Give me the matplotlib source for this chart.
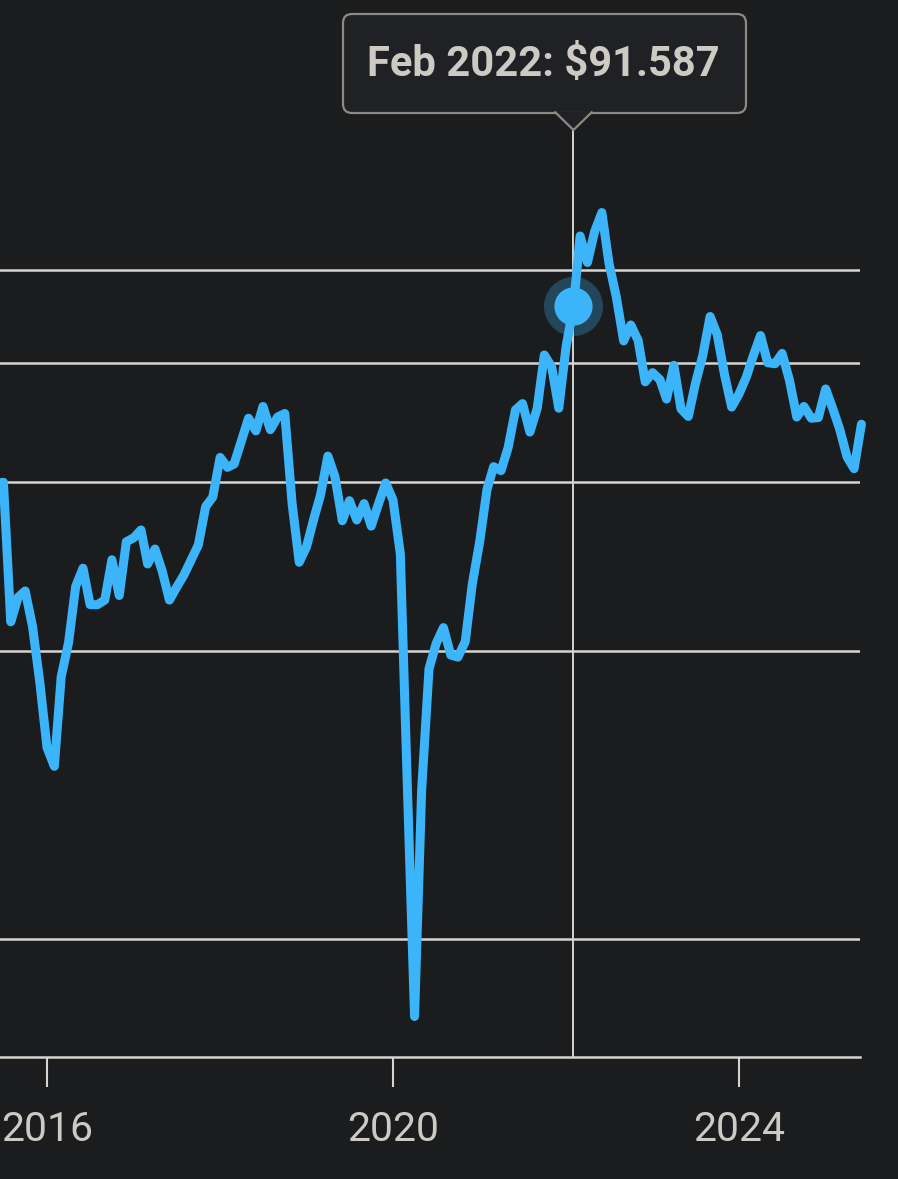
import numpy as np
import pandas as pd
import matplotlib
matplotlib.use("Agg")
import matplotlib.pyplot as plt
import matplotlib.dates as mdates
from matplotlib.patches import FancyBboxPatch, Polygon
from matplotlib.ticker import NullLocator

# monthly prices (Jun 2015 .. Jun 2025)
start_month = "2015-06-01"
prices_2015 = [59.8, 60.0, 42.9, 45.5, 46.2, 42.4, 37.2]
prices_2016 = [31.7, 30.3, 37.6, 40.8, 46.7, 48.8, 44.7, 44.7, 45.2, 49.8, 45.7, 52.0]
prices_2017 = [52.5, 53.5, 49.3, 51.1, 48.5, 45.2, 46.6, 48.0, 49.8, 51.6, 56.6, 57.9]
prices_2018 = [63.7, 62.2, 62.7, 66.3, 70.0, 67.9, 72.0, 68.1, 70.2, 70.8, 57.0, 49.5]
prices_2019 = [51.4, 55.0, 58.2, 63.9, 60.8, 54.7, 57.4, 54.8, 57.0, 54.0, 57.0, 59.9]
prices_2020 = [57.5, 50.5, 29.2, 16.6, 28.6, 38.3, 40.7, 42.3, 39.6, 39.4, 40.9, 47.0]
prices_2021 = [52.0, 59.0, 62.3, 61.7, 65.2, 71.4, 72.5, 67.7, 71.7, 81.5, 79.2, 71.7]
prices_2022 = [83.2, 91.587, 108.5, 101.8, 109.6, 114.8, 101.6, 93.7, 84.3, 87.6, 84.4, 76.4]
prices_2023 = [78.1, 76.8, 73.3, 79.5, 71.6, 70.3, 76.1, 81.4, 89.4, 85.6, 77.7, 71.9]
prices_2024 = [74.2, 77.3, 81.3, 85.4, 80.0, 79.8, 81.8, 76.7, 70.2, 72.0, 70.0, 70.1]
prices_2025 = [75.1, 71.5, 68.2, 63.8, 62.0, 69.0]

grid_values = [20, 40, 60, 80, 100]
year_ticks = ["2016", "2020", "2024"]
hover_month = "2022-02-01"

prices = (prices_2015 + prices_2016 + prices_2017 + prices_2018 + prices_2019
          + prices_2020 + prices_2021 + prices_2022 + prices_2023 + prices_2024
          + prices_2025)
months = pd.date_range(start_month, periods=len(prices), freq="MS")

# style
bg = "#1b1c1e"
blue = "#3cb4fa"
light = "#d8d4ce"
text_col = "#cdc9c3"
plt.rcParams["font.family"] = ["Roboto", "DejaVu Sans"]

W, H = 898, 1179
fig = plt.figure(figsize=(W / 100, H / 100), dpi=100, facecolor=bg)
ax = fig.add_axes([0, 122 / H, 860 / W, 1057 / H])
ax.set_facecolor(bg)

# x range: 2016-01-01 sits near px 47, 2024-01-01 near px 739
d16 = mdates.date2num(pd.Timestamp("2016-01-01"))
d24 = mdates.date2num(pd.Timestamp("2024-01-01"))
per_px = (d24 - d16) / (739 - 47)
ax.set_xlim(d16 - 47 * per_px, d16 + 813 * per_px)

ax.set_yscale("log")
ax.set_ylim(15.06, 191.4)
ax.set_yticks(grid_values)
ax.yaxis.set_minor_locator(NullLocator())
ax.tick_params(axis="y", length=0, labelleft=False)
ax.grid(axis="y", color=light, lw=1.8)
ax.set_axisbelow(True)

ax.set_xticks([mdates.date2num(pd.Timestamp(y + "-01-01")) for y in year_ticks])
ax.set_xticklabels(year_ticks)
ax.xaxis.set_minor_locator(NullLocator())
ax.tick_params(axis="x", length=21.5, width=1.5, color=light, labelcolor=text_col,
               labelsize=29.5, pad=17)

for s in ["top", "left", "right"]:
    ax.spines[s].set_visible(False)
ax.spines["bottom"].set_color(light)
ax.spines["bottom"].set_linewidth(1.8)

# price line
x = mdates.date2num(months)
ax.plot(x, prices, color=blue, lw=6.5, solid_joinstyle="round",
        solid_capstyle="round", zorder=3, clip_on=False)

# hover crosshair + marker
hx = mdates.date2num(pd.Timestamp(hover_month))
hv = prices[list(months).index(pd.Timestamp(hover_month))]
ax.axvline(hx, ymin=0, ymax=(1057 - 130) / 1057, color=light, lw=1.4, zorder=2)
ax.plot([hx], [hv], "o", ms=42.5, color=blue, alpha=0.28, mec="none", zorder=2.5)
ax.plot([hx], [hv], "o", ms=27.5, color=blue, mec="none", zorder=4)

# tooltip in pixel space
over = fig.add_axes([0, 0, 1, 1])
over.set_xlim(0, W)
over.set_ylim(0, H)
over.axis("off")
px = ax.transData.transform((hx, hv))[0]
box_l, box_r, box_t, box_b = 343, 746, H - 14, H - 113
tip_y = H - 130
over.add_patch(FancyBboxPatch((box_l, box_b), box_r - box_l, box_t - box_b,
                              boxstyle="round,pad=0,rounding_size=9",
                              fc="#202124", ec="#8e8a83", lw=1.6, zorder=5))
over.add_patch(Polygon([[px - 19, box_b + 1.5], [px, tip_y], [px + 19, box_b + 1.5]],
                       closed=False, fc="#202124", ec="#8e8a83", lw=1.6, zorder=6))
label = pd.Timestamp(hover_month).strftime("%b %Y") + ": $" + f"{hv:.3f}"
over.text((box_l + box_r) / 2 - 1, (box_t + box_b) / 2 - 1, label, ha="center", va="center",
          fontsize=30, fontweight="bold", color=text_col, parse_math=False, zorder=7)

fig.savefig("out.png", dpi=100, facecolor=bg)
